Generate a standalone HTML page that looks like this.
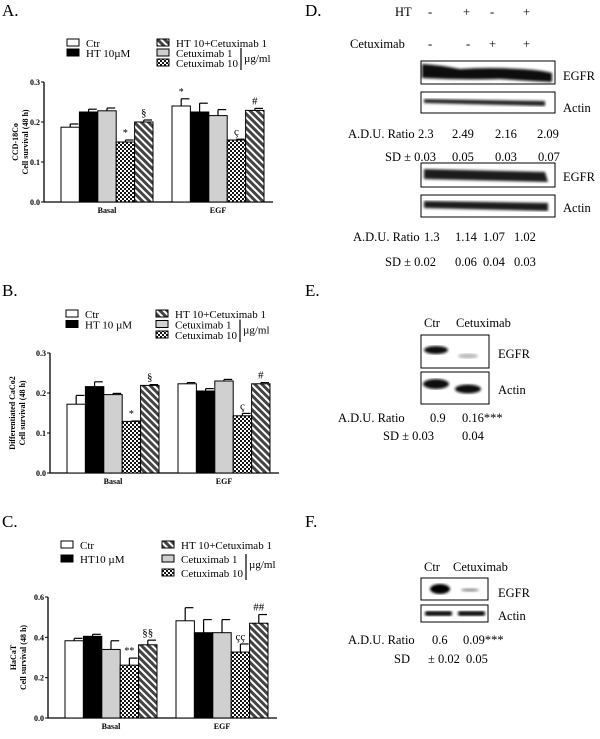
<!DOCTYPE html>
<html><head><meta charset="utf-8">
<style>
html,body{margin:0;padding:0;background:#fff;}
svg{display:block;font-family:"Liberation Serif",serif;}
text{font-family:"Liberation Serif",serif;}
.tk{font-size:8px;font-weight:bold;}
.lg{font-size:11px;}
.pl{font-size:17px;}
.wb{font-size:12.5px;}
</style></head>
<body>
<svg id="fig" width="600" height="739" viewBox="0 0 600 739" xmlns="http://www.w3.org/2000/svg">
<defs>
<pattern id="stripe" width="5" height="5" patternUnits="userSpaceOnUse" patternTransform="rotate(45)">
<rect width="5" height="5" fill="#fff"/><rect width="5" height="3" fill="#444"/>
</pattern>
<pattern id="check" width="4" height="4" patternUnits="userSpaceOnUse">
<rect width="4" height="4" fill="#fff"/><rect width="2" height="2" fill="#111"/><rect x="2" y="2" width="2" height="2" fill="#111"/>
</pattern>
<filter id="blur"><feGaussianBlur stdDeviation="1.2"/></filter>
</defs>

<text class="pl" x="2" y="16">A.</text>
<text class="pl" x="2" y="296">B.</text>
<text class="pl" x="2" y="527">C.</text>
<text class="pl" x="305" y="16">D.</text>
<text class="pl" x="305" y="296">E.</text>
<text class="pl" x="305" y="527">F.</text>

<g id="charts"></g>

<g>
<text class="wb" x="395" y="16">HT</text>
<text class="wb" x="428" y="16">-</text>
<text class="wb" x="463" y="16">+</text>
<text class="wb" x="490" y="16">-</text>
<text class="wb" x="523" y="16">+</text>
<text class="wb" x="350" y="48">Cetuximab</text>
<text class="wb" x="428" y="48">-</text>
<text class="wb" x="466" y="48">-</text>
<text class="wb" x="489" y="48">+</text>
<text class="wb" x="523" y="48">+</text>
<rect x="421" y="61" width="134" height="23" fill="#fff" stroke="#000"/>
<path d="M422 64 Q440 65 460 69 Q490 67 520 69 Q540 70 552 73 L552 82 Q530 81 500 79 Q460 80 422 78 Z" fill="#0a0a0a" filter="url(#blur)"/>
<rect x="421" y="92" width="134" height="21" fill="#fff" stroke="#000"/>
<path d="M424 99 L545 101 L545 106 L424 103 Z" fill="#222" filter="url(#blur)"/>
<text class="wb" x="563" y="80">EGFR</text>
<text class="wb" x="563" y="112">Actin</text>
<text class="wb" x="348" y="138">A.D.U. Ratio</text>
<text class="wb" x="418" y="138">2.3</text>
<text class="wb" x="452" y="138">2.49</text>
<text class="wb" x="495" y="138">2.16</text>
<text class="wb" x="537" y="138">2.09</text>
<text class="wb" x="385" y="161">SD ± 0.03</text>
<text class="wb" x="452" y="161">0.05</text>
<text class="wb" x="495" y="161">0.03</text>
<text class="wb" x="538" y="161">0.07</text>
<rect x="421" y="163" width="134" height="24" fill="#fff" stroke="#000"/>
<path d="M424 169 L545 172 L548 182 L424 179 Z" fill="#1a1a1a" filter="url(#blur)"/>
<rect x="421" y="195" width="134" height="22" fill="#fff" stroke="#000"/>
<path d="M424 201 L548 203 L548 211 L424 208 Z" fill="#1a1a1a" filter="url(#blur)"/>
<text class="wb" x="563" y="181">EGFR</text>
<text class="wb" x="563" y="212">Actin</text>
<text class="wb" x="353" y="241">A.D.U. Ratio</text>
<text class="wb" x="424" y="241">1.3</text>
<text class="wb" x="455" y="241">1.14</text>
<text class="wb" x="483" y="241">1.07</text>
<text class="wb" x="514" y="241">1.02</text>
<text class="wb" x="385" y="266">SD ± 0.02</text>
<text class="wb" x="455" y="266">0.06</text>
<text class="wb" x="483" y="266">0.04</text>
<text class="wb" x="514" y="266">0.03</text>
</g>

<g>
<text class="wb" x="424" y="327">Ctr</text>
<text class="wb" x="456" y="327">Cetuximab</text>
<rect x="421" y="335" width="68" height="33" fill="#fff" stroke="#000"/>
<ellipse cx="436" cy="350" rx="12" ry="4" fill="#111" filter="url(#blur)"/>
<ellipse cx="468" cy="356" rx="10" ry="2.5" fill="#bbb" filter="url(#blur)"/>
<rect x="421" y="372" width="68" height="32" fill="#fff" stroke="#000"/>
<ellipse cx="436" cy="384" rx="13" ry="5" fill="#111" filter="url(#blur)"/>
<ellipse cx="468" cy="389" rx="13" ry="4.5" fill="#111" filter="url(#blur)"/>
<text class="wb" x="498" y="358">EGFR</text>
<text class="wb" x="498" y="394">Actin</text>
<text class="wb" x="338" y="422">A.D.U. Ratio</text>
<text class="wb" x="430" y="422">0.9</text>
<text class="wb" x="462" y="422">0.16***</text>
<text class="wb" x="383" y="440">SD  ±  0.03</text>
<text class="wb" x="462" y="440">0.04</text>
</g>

<g>
<text class="wb" x="424" y="571">Ctr</text>
<text class="wb" x="453" y="571">Cetuximab</text>
<rect x="421" y="578" width="67" height="22" fill="#fff" stroke="#000"/>
<ellipse cx="440" cy="589" rx="10" ry="5" fill="#000" filter="url(#blur)"/>
<ellipse cx="470" cy="590" rx="9" ry="1.8" fill="#999" filter="url(#blur)"/>
<rect x="421" y="605" width="67" height="17" fill="#fff" stroke="#000"/>
<rect x="425" y="611" width="27" height="5" rx="2" fill="#111" filter="url(#blur)"/>
<rect x="458" y="611" width="27" height="5" rx="2" fill="#111" filter="url(#blur)"/>
<text class="wb" x="498" y="597">EGFR</text>
<text class="wb" x="498" y="620">Actin</text>
<text class="wb" x="348" y="644">A.D.U. Ratio</text>
<text class="wb" x="432" y="644">0.6</text>
<text class="wb" x="463" y="644">0.09***</text>
<text class="wb" x="394" y="663">SD</text>
<text class="wb" x="428" y="663">± 0.02</text>
<text class="wb" x="466" y="663">0.05</text>
</g>
</svg>
<script>
const groups = ["Basal", "EGF"];
const seriesNames = ["Ctr", "HT", "Cetuximab 1", "Cetuximab 10", "HT 10+Cetuximab 1"];
const aBasal = [0.187, 0.225, 0.228, 0.150, 0.200];
const aBasalErr = [0.008, 0.007, 0.007, 0.005, 0.005];
const aEGF = [0.240, 0.225, 0.216, 0.155, 0.229];
const aEGFErr = [0.018, 0.022, 0.015, 0.002, 0.005];
const aMarks = [["", "", "", "*", "§"], ["*", "", "", "ç", "#"]];
const bBasal = [0.172, 0.216, 0.196, 0.129, 0.219];
const bBasalErr = [0.022, 0.012, 0.003, 0.001, 0.002];
const bEGF = [0.223, 0.205, 0.230, 0.143, 0.223];
const bEGFErr = [0.003, 0.006, 0.004, 0.006, 0.003];
const bMarks = [["", "", "", "*", "§"], ["", "", "", "ç", "#"]];
const cBasal = [0.383, 0.405, 0.340, 0.262, 0.363];
const cBasalErr = [0.012, 0.010, 0.043, 0.035, 0.023];
const cEGF = [0.482, 0.423, 0.423, 0.327, 0.470];
const cEGFErr = [0.065, 0.065, 0.065, 0.040, 0.043];
const cMarks = [["", "", "", "**", "§§"], ["", "", "", "çç", "##"]];
const ticksA = ["0.0", "0.1", "0.2", "0.3"];
const ticksC = ["0.0", "0.2", "0.4", "0.6"];

const NS = "http://www.w3.org/2000/svg";
const fills = ["#fff", "#000", "#d0d0d0", "url(#check)", "url(#stripe)"];
const root = document.getElementById("charts");
function mk(tag, attrs, parent) {
  const e = document.createElementNS(NS, tag);
  for (const k in attrs) e.setAttribute(k, attrs[k]);
  (parent || root).appendChild(e);
  return e;
}
function chart(cfg) {
  const g = mk("g", {});
  
  
  const ymax = parseFloat(cfg.ticks[cfg.ticks.length - 1]);
  const y = v => cfg.y0 - (v / ymax) * (cfg.y0 - cfg.yTop);
  const bw = 18.4;
  const gx = [cfg.x0 + 17, cfg.x0 + 128];
  const ax = mk("path", {d: `M${cfg.x0} ${cfg.yTop} V${cfg.y0} H${cfg.x0 + 229}`, stroke: "#000", "stroke-width": 1.3, fill: "none"}, g);
  
  
  cfg.ticks.forEach(t => {
    const ty = y(parseFloat(t));
    mk("line", {x1: cfg.x0 - 3, x2: cfg.x0, y1: ty, y2: ty, stroke: "#000"}, g);
    const tl = mk("text", {class: "tk", x: cfg.x0 - 4, y: ty + 3, "text-anchor": "end"}, g);
    tl.textContent = t;
    
    
  });
  const yt = mk("text", {class: "tk", "font-size": "9.5", "text-anchor": "middle", transform: `translate(${cfg.titleX},${(cfg.y0 + cfg.yTop) / 2}) rotate(-90)`}, g);
  
  
  cfg.title.forEach((line, i) => {
    const ts = mk("tspan", {x: 0, dy: i === 0 ? 0 : 10}, yt);
    ts.textContent = line;
  });
  const data = [[cfg.basal, cfg.basalErr], [cfg.egf, cfg.egfErr]];
  data.forEach((d, gi) => {
    const xl = mk("text", {class: "tk", x: gx[gi] + bw * 2.5, y: cfg.y0 + 11, "text-anchor": "middle"}, g);
    xl.textContent = groups[gi];
    
    
    d[0].forEach((v, si) => {
      const bx = gx[gi] + si * bw, by = y(v), ey = y(v + d[1][si]);
      mk("line", {x1: bx + bw / 2, x2: bx + bw / 2, y1: by, y2: ey, stroke: "#000", "stroke-width": 1.2}, g);
      mk("line", {x1: bx + bw / 2, x2: bx + bw - 1, y1: ey, y2: ey, stroke: "#000", "stroke-width": 1.2}, g);
      const r = mk("rect", {x: bx, y: by, width: bw, height: cfg.y0 - by, fill: fills[si], stroke: "#000", "stroke-width": 1}, g);
      
      
      const m = cfg.marks[gi][si];
      if (m) {
        const mt = mk("text", {x: bx + bw / 2, y: ey - 4, "text-anchor": "middle", "font-size": m === "*" || m === "**" ? "10" : "11"}, g);
        mt.textContent = m;
        
        
      }
    });
  });
  const L = cfg.leg;
  const left = [["Ctr", 0], [cfg.htLabel, 1]];
  left.forEach((e, i) => {
    const ry = L.y + i * L.dy;
    mk("rect", {x: L.x1, y: ry - 8, width: 12, height: 7, fill: fills[e[1]], stroke: "#000"}, g);
    const t = mk("text", {class: "lg", x: L.x1 + 19, y: ry}, g);
    t.textContent = e[0];
    
    
  });
  const right = [["HT 10+Cetuximab 1", 4], ["Cetuximab 1", 2], ["Cetuximab 10", 3]];
  right.forEach((e, i) => {
    const ry = L.y + i * L.dy;
    mk("rect", {x: L.x2, y: ry - 8, width: 12, height: 7, fill: fills[e[1]], stroke: "#000"}, g);
    const t = mk("text", {class: "lg", x: L.x2 + 19, y: ry}, g);
    t.textContent = e[0];
    
    
  });
  const bxx = L.x2 + 84;
  mk("line", {x1: bxx, x2: bxx, y1: L.y + L.dy - 9, y2: L.y + 2 * L.dy + 3, stroke: "#000", "stroke-width": 1.2}, g);
  const u = mk("text", {class: "lg", x: bxx + 3, y: L.y + L.dy + 5}, g);
  u.textContent = "µg/ml";
  
  
}
chart({id: "a", x0: 44, y0: 202, yTop: 82, ticks: ticksA, title: ["CCD-18Co", "Cell survival (48 h)"], titleX: 18,
  basal: aBasal, basalErr: aBasalErr, egf: aEGF, egfErr: aEGFErr, marks: aMarks, htLabel: "HT 10µM",
  leg: {x1: 67, x2: 157, y: 47, dy: 10}});
chart({id: "b", x0: 50, y0: 473, yTop: 353, ticks: ticksA, title: ["Differentiated CaCo2", "Cell survival (48 h)"], titleX: 15,
  basal: bBasal, basalErr: bBasalErr, egf: bEGF, egfErr: bEGFErr, marks: bMarks, htLabel: "HT 10 µM",
  leg: {x1: 66, x2: 156, y: 318, dy: 10.5}});
chart({id: "c", x0: 48, y0: 718, yTop: 597, ticks: ticksC, title: ["HaCaT", "Cell survival (48 h)"], titleX: 16,
  basal: cBasal, basalErr: cBasalErr, egf: cEGF, egfErr: cEGFErr, marks: cMarks, htLabel: "HT10 µM",
  leg: {x1: 61, x2: 162, y: 549, dy: 14}});
</script>
</body></html>
